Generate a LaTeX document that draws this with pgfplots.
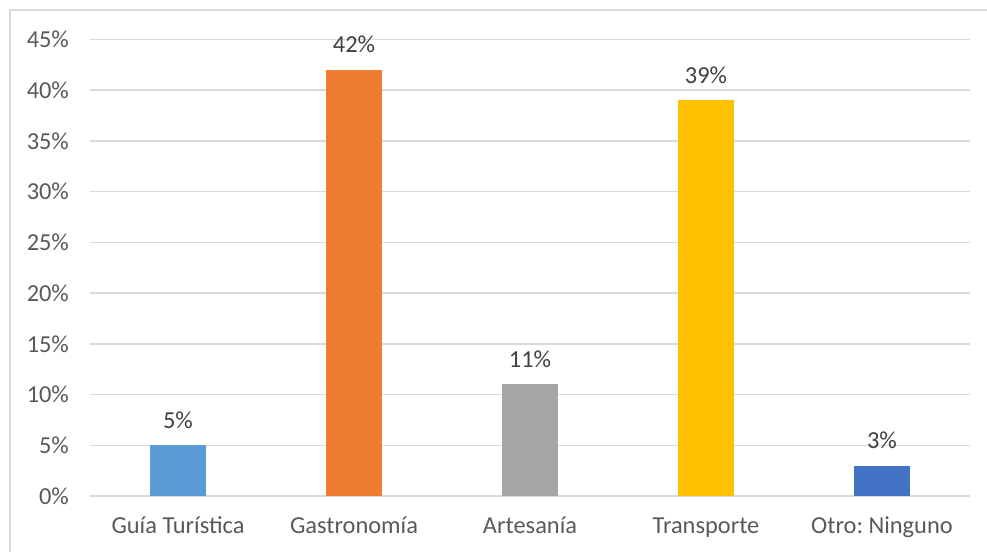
\documentclass[border=0pt]{standalone}
\usepackage{fontspec}
\setmainfont{Carlito}
\usepackage{pgfplots}
\pgfplotsset{compat=1.18}
\definecolor{c1}{HTML}{5B9BD5}
\definecolor{c2}{HTML}{ED7D31}
\definecolor{c3}{HTML}{A5A5A5}
\definecolor{c4}{HTML}{FFC000}
\definecolor{c5}{HTML}{4472C4}
\definecolor{gridc}{HTML}{D9D9D9}
\definecolor{tickc}{HTML}{595959}
\definecolor{labc}{HTML}{404040}
\frenchspacing
\begin{document}
\begin{tikzpicture}
\useasboundingbox (0,0) rectangle (493.5pt,276pt);
\draw[gridc, line width=0.8pt] (5pt,-10pt) rectangle (520pt,271pt);
\begin{axis}[
  at={(45pt,28pt)}, anchor=south west,
  scale only axis,
  width=440pt, height=228.25pt,
  ybar, bar width=28pt,
  xmin=-0.5, xmax=4.5,
  ymin=0, ymax=45,
  xtick={0,1,2,3,4},
  xticklabels={Guía Turística,Gastronomía,Artesanía,Transporte,Otro: Ninguno},
  ytick={0,5,10,15,20,25,30,35,40,45},
  yticklabels={0\%,5\%,10\%,15\%,20\%,25\%,30\%,35\%,40\%,45\%},
  ymajorgrids,
  grid style={gridc, line width=0.75pt},
  axis line style={draw=none},
  major tick length=0pt,
  tick label style={font=\fontsize{12.2}{14}\selectfont, text=tickc},
  yticklabel style={xshift=-7pt},
  xticklabel style={anchor=base, yshift=-19pt},
  /pgf/number format/assume math mode=true,
  nodes near coords={\pgfmathprintnumber{\pgfplotspointmeta}\%},
  every node near coord/.append style={font=\fontsize{12.2}{14}\selectfont, text=labc, anchor=base, yshift=8.5pt},
  clip=false,
]
\addplot[fill=c1, draw=none, bar shift=0pt] coordinates {(0,5)};
\addplot[fill=c2, draw=none, bar shift=0pt] coordinates {(1,42)};
\addplot[fill=c3, draw=none, bar shift=0pt] coordinates {(2,11)};
\addplot[fill=c4, draw=none, bar shift=0pt] coordinates {(3,39)};
\addplot[fill=c5, draw=none, bar shift=0pt] coordinates {(4,3)};
\end{axis}
\end{tikzpicture}
\end{document}
